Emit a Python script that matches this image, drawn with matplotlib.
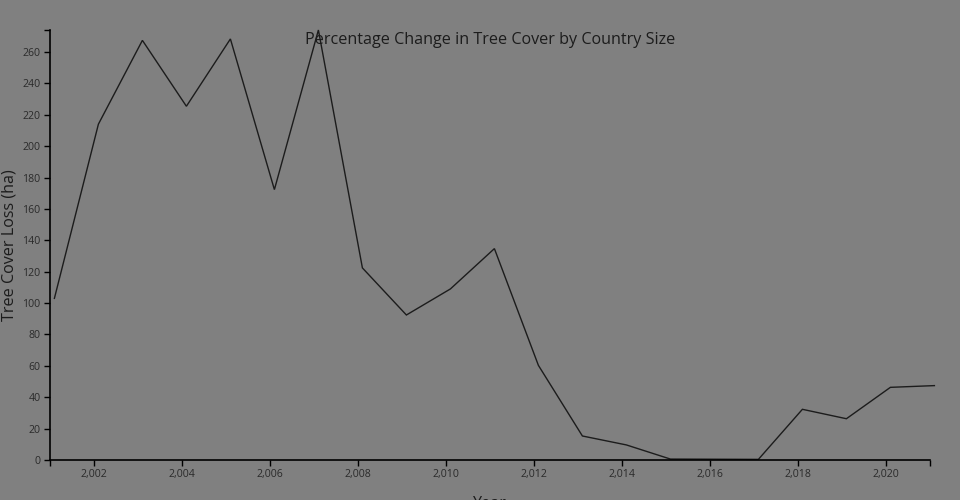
import matplotlib
matplotlib.use("Agg")
import matplotlib.pyplot as plt
from matplotlib.ticker import FuncFormatter, FixedLocator

years = [2001, 2002, 2003, 2004, 2005, 2006, 2007, 2008, 2009, 2010, 2011,
         2012, 2013, 2014, 2015, 2016, 2017, 2018, 2019, 2020, 2021]
loss = [103.0, 214.0, 267.4, 225.4, 268.3, 172.3, 274.0, 122.4, 92.4, 109.0, 134.7,
        60.3, 15.3, 9.6, 0.6, 0.5, 0.4, 32.3, 26.3, 46.3, 47.4]
x_ticks = [2002, 2004, 2006, 2008, 2010, 2012, 2014, 2016, 2018, 2020]
y_ticks = list(range(0, 261, 20))
title = "Percentage Change in Tree Cover by Country Size"
x_label = "Year"
y_label = "Tree Cover Loss (ha)"

plt.rcParams['font.family'] = ['Open Sans', 'DejaVu Sans']
bg = "#808080"
ink = "#1c1c1c"

fig = plt.figure(figsize=(9.6, 5.0), dpi=100, facecolor=bg)
W, H = 960, 500
left, right, top, bottom = 50, 930, 30, 460
ax = fig.add_axes([left / W, (H - bottom) / H, (right - left) / W, (bottom - top) / H])
ax.set_facecolor(bg)

xs = [y + 0.1 for y in years]
ax.plot(xs, loss, color=ink, lw=1.0, clip_on=False, solid_joinstyle='miter')

ax.set_xlim(2001, 2021)
ax.set_ylim(0, max(loss))

for s in ['top', 'right']:
    ax.spines[s].set_visible(False)
for s in ['left', 'bottom']:
    ax.spines[s].set_color('black')
    ax.spines[s].set_linewidth(1.2)

ax.xaxis.set_major_locator(FixedLocator([2001] + x_ticks + [2021]))
ax.xaxis.set_major_formatter(FuncFormatter(
    lambda v, p: f"{int(round(v)):,}" if int(round(v)) in x_ticks else ""))
ax.yaxis.set_major_locator(FixedLocator(y_ticks + [max(loss)]))
ax.yaxis.set_major_formatter(FuncFormatter(
    lambda v, p: f"{int(round(v))}" if v in y_ticks else ""))

ax.tick_params(axis='both', length=6 * 0.72, width=1.0, color='black',
               labelsize=7.6, labelcolor="#2a2a2a", pad=2.5)

fig.text(490 / W, 1 - 39.5 / H, title, ha='center', va='center',
         fontsize=11.6, color=ink)
fig.text(10 / W, 1 - 245 / H, y_label, ha='center', va='center',
         rotation=90, fontsize=11.6, color=ink)
fig.text(490 / W, 1 - 496 / H, x_label, ha='center', va='top',
         fontsize=11.6, color=ink)

fig.savefig("out.png", dpi=100, facecolor=bg)
